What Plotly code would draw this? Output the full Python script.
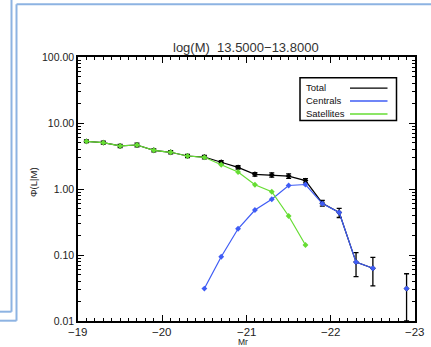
import plotly.graph_objects as go

# ---- data ----
mr = [-19.1, -19.3, -19.5, -19.7, -19.9, -20.1, -20.3, -20.5, -20.7, -20.9,
      -21.1, -21.3, -21.5, -21.7, -21.9, -22.1, -22.3, -22.5, -22.7, -22.9]
total = [5.28, 5.04, 4.49, 4.64, 3.86, 3.60, 3.16, 3.05, 2.54, 2.13,
         1.67, 1.63, 1.57, 1.34, 0.61, 0.44, 0.078, 0.063, None, 0.031]
total_err = [0.25, 0.25, 0.25, 0.30, 0.20, 0.20, 0.18, 0.18, 0.15, 0.12,
             0.10, 0.12, 0.12, 0.10, 0.06, 0.07, 0.031, 0.029, None, 0.021]
centrals = [None, None, None, None, None, None, None, 0.031, 0.094, 0.25,
            0.48, 0.70, 1.13, 1.17, 0.60, 0.44, 0.078, 0.063, None, 0.031]
satellites = [5.28, 5.04, 4.49, 4.64, 3.86, 3.60, 3.16, 3.02, 2.33, 1.81,
              1.16, 0.91, 0.39, 0.142, None, None, None, None, None, None]

x_ticks = [-19, -20, -21, -22, -23]
x_ticktext = ["\u221219", "\u221220", "\u221221", "\u221222", "\u221223"]
y_ticks = [0.01, 0.1, 1, 10, 100]
y_ticktext = ["0.01", "0.10", "1.00", "10.00", "100.00"]
title_text = "log(M)  13.5000\u221213.8000"
legend_names = ["Total", "Centrals", "Satellites"]

BLACK = "#000000"
BLUE = "#3F5CF5"
GREEN = "#66DD33"
FRAME = "#8DB3E2"
FONT = "Liberation Sans, Arial, sans-serif"

W, H = 431, 347
L, R, T, B = 78, 415, 57, 321


def px(xp):
    return (xp - L) / (R - L)


def py(yp):
    return (B - yp) / (B - T)


fig = go.Figure()
fig.add_trace(go.Scatter(
    x=mr, y=total, mode="lines+markers", name=legend_names[0],
    line=dict(color=BLACK, width=1.2), connectgaps=False,
    marker=dict(symbol="diamond", size=4.5, color=BLACK),
    error_y=dict(type="data", array=total_err, visible=True,
                 color=BLACK, thickness=1.3, width=2.5)))
fig.add_trace(go.Scatter(
    x=mr, y=centrals, mode="lines+markers", name=legend_names[1],
    line=dict(color=BLUE, width=1.2), connectgaps=False,
    marker=dict(symbol="diamond", size=4.5, color=BLUE)))
fig.add_trace(go.Scatter(
    x=mr, y=satellites, mode="lines+markers", name=legend_names[2],
    line=dict(color=GREEN, width=1.2), connectgaps=False,
    marker=dict(symbol="diamond", size=4.5, color=GREEN)))

minor_y = [m * 10 ** e for e in range(-2, 2) for m in range(2, 10)]

fig.update_layout(
    width=W, height=H,
    margin=dict(l=L, r=W - R, t=T, b=H - B, pad=0),
    paper_bgcolor="white", plot_bgcolor="white",
    showlegend=False,
    font=dict(family=FONT, size=10.5, color="#222222"),
    xaxis=dict(range=[-19, -23], tickvals=x_ticks, ticks="inside",
               ticklen=6, tickwidth=1, tickcolor=BLACK, showticklabels=False,
               showline=True, linecolor=BLACK, linewidth=1.5, mirror="ticks",
               showgrid=False, zeroline=False,
               minor=dict(dtick=0.1, tick0=-19, ticks="inside", ticklen=3,
                          tickwidth=1, tickcolor=BLACK, showgrid=False)),
    yaxis=dict(type="log", range=[-2, 2], tickvals=y_ticks,
               ticktext=y_ticktext, ticks="inside", ticklen=6, tickwidth=1,
               tickcolor=BLACK, showline=True, linecolor=BLACK, linewidth=1.5,
               mirror="ticks", showgrid=False, zeroline=False,
               tickfont=dict(size=10.5, color="#222222"),
               minor=dict(tickvals=minor_y, ticks="inside", ticklen=3,
                          tickwidth=1, tickcolor=BLACK, showgrid=False)),
)

annotations = [
    dict(text=title_text, x=px(246), y=py(47), xref="paper", yref="paper",
         showarrow=False, font=dict(size=13, color="#333333"),
         xanchor="center", yanchor="middle"),
    dict(text="\u03a6(L|M)", x=px(33), y=py(182), xref="paper", yref="paper",
         showarrow=False, textangle=-90, font=dict(size=9.5, color="#222222"),
         xanchor="center", yanchor="middle"),
    dict(text="Mr", x=px(243), y=py(341.5), xref="paper", yref="paper",
         showarrow=False, font=dict(size=8.5, color="#222222"),
         xanchor="center", yanchor="middle"),
]
# x tick labels placed just under the axis
for tv, tt in zip(x_ticks, x_ticktext):
    annotations.append(dict(text=tt, x=tv, y=py(331.5), xref="x",
                            yref="paper", showarrow=False, xanchor="center",
                            yanchor="middle",
                            font=dict(size=11.5, color="#222222")))

legend_rows = [87.7, 100.5, 113.5]
legend_cols = [BLACK, BLUE, GREEN]
shapes = [
    dict(type="rect", xref="paper", yref="paper", x0=px(300), x1=px(396.5),
         y0=py(120.5), y1=py(77.8), line=dict(color=BLACK, width=1.5),
         fillcolor="white", layer="above"),
]
for name, yy, col in zip(legend_names, legend_rows, legend_cols):
    annotations.append(dict(text=name, x=px(303.5), y=py(yy), xref="paper",
                            yref="paper", showarrow=False, xanchor="left",
                            yanchor="middle",
                            font=dict(size=9.5, color="#111111")))
    shapes.append(dict(type="line", xref="paper", yref="paper", x0=px(350),
                       x1=px(387.5), y0=py(yy + 0.5), y1=py(yy + 0.5),
                       line=dict(color=col, width=1.3), layer="above"))

# slide frames around the chart
frames = [
    (11.5, 0, 11.5, 311.7), (0, 311.7, 11.5, 311.7),
    (16.5, 4.3, 16.5, 320.7), (16.5, 4.3, 431, 4.3), (0, 320.7, 16.5, 320.7),
]
for x0, y0, x1, y1 in frames:
    shapes.append(dict(type="line", xref="paper", yref="paper",
                       x0=px(x0), x1=px(x1), y0=py(y0), y1=py(y1),
                       line=dict(color=FRAME, width=2)))

fig.update_layout(annotations=annotations, shapes=shapes)
fig.write_html(
    "out.html",
    config={"displayModeBar": False},
    post_script="document.body.style.margin='0px';"
                "document.body.style.overflow='hidden';",
)
